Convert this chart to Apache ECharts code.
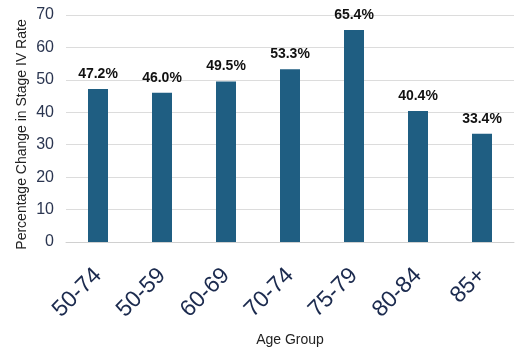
<!DOCTYPE html>
<html><head><meta charset="utf-8">
<script src="https://cdn.jsdelivr.net/npm/echarts@6/dist/echarts.min.js"></script>
<style>html,body{margin:0;padding:0;background:#fff}#c{width:525px;height:364px}</style>
</head><body><div id="c"></div>
<script>
const categories = ["50-74","50-59","60-69","70-74","75-79","80-84","85+"];
const values = [47.2, 46.0, 49.5, 53.3, 65.4, 40.4, 33.4];
const yTitle = "Percentage Change in Stage IV Rate";
const xTitle = "Age Group";
const chart = echarts.init(document.getElementById('c'), null, {renderer:'canvas'});
chart.setOption({
  animation:false,
  grid:{left:66,right:11,top:15,bottom:122},
  xAxis:{type:'category',data:categories,
    name:xTitle,nameLocation:'middle',nameGap:91,nameMoveOverlap:false,
    nameTextStyle:{fontFamily:'Liberation Sans',fontSize:14,color:'#222'},
    axisLine:{lineStyle:{color:'#d0d0d0'}},axisTick:{show:false},
    axisLabel:{rotate:45,fontFamily:'Liberation Sans',fontSize:23,color:'#1b2a4e',margin:30}},
  yAxis:{type:'value',min:0,max:70,interval:10,
    name:yTitle,nameLocation:'middle',nameGap:37,nameMoveOverlap:false,
    nameTextStyle:{fontFamily:'Liberation Sans',fontSize:14,color:'#222',padding:[0,12,0,0]},
    axisLine:{show:false},axisTick:{show:false},
    splitLine:{lineStyle:{color:'#dcdcdc'}},
    axisLabel:{fontFamily:'Liberation Sans',fontSize:16,color:'#2a3550',margin:12}},
  series:[{type:'bar',data:values,barWidth:20,itemStyle:{color:'#1f5e82'},
    label:{show:true,position:'top',distance:8,formatter:p=>p.value.toFixed(1)+'%',
      fontFamily:'Liberation Sans',fontWeight:'bold',fontSize:14,color:'#111'}}]
});
</script></body></html>
